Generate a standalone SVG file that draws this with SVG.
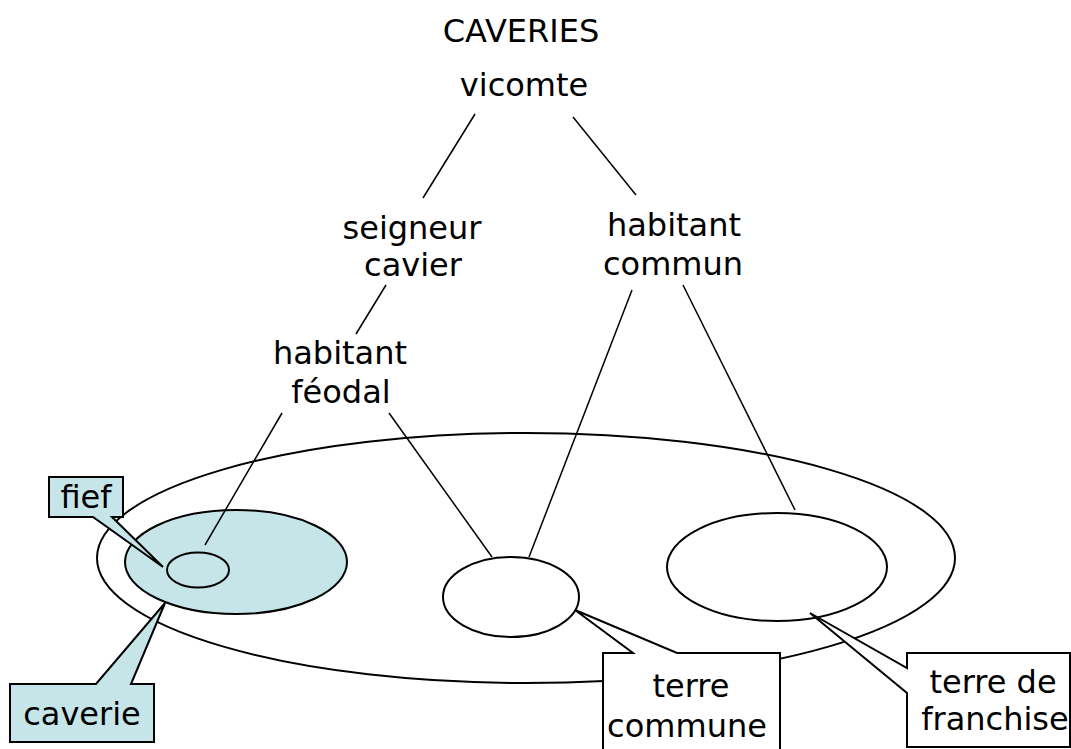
<svg xmlns="http://www.w3.org/2000/svg" width="1071" height="749" viewBox="0 0 1071 749">
<style>
text{font-family:"DejaVu Sans","Verdana",sans-serif;font-size:32px;fill:#000;text-anchor:middle}
.sh{stroke:#000;stroke-width:2;fill:none}
.wf{fill:#fff}
.cy{fill:#c5e5e8}
.ln{stroke:#000;stroke-width:1.5;fill:none}
</style>
<rect width="1071" height="749" fill="#fff"/>
<g id="areas">
<ellipse id="domain" class="sh" cx="526" cy="558" rx="429" ry="125"/>
<ellipse id="caverie-area" class="sh cy" cx="236" cy="562" rx="111" ry="52"/>
<ellipse id="fief-area" class="sh cy" cx="198" cy="570" rx="31" ry="17.5"/>
<ellipse id="commune-area" class="sh wf" cx="511" cy="597" rx="68" ry="40"/>
<ellipse id="franchise-area" class="sh wf" cx="777" cy="567" rx="110" ry="54"/>
</g>
<g id="connectors">
<line class="ln" x1="475" y1="114" x2="423" y2="198"/>
<line class="ln" x1="573" y1="117" x2="636" y2="195"/>
<line class="ln" x1="386" y1="285" x2="356" y2="334"/>
<line class="ln" x1="282" y1="413" x2="205" y2="545"/>
<line class="ln" x1="389" y1="413" x2="492" y2="557"/>
<line class="ln" x1="632" y1="290" x2="529" y2="557"/>
<line class="ln" x1="683" y1="285" x2="795" y2="510"/>
</g>
<g id="title"><text x="521" y="42">CAVERIES</text></g>
<g id="vicomte"><text x="524" y="96">vicomte</text></g>
<g id="seigneur-cavier"><text x="412" y="239">seigneur</text><text x="413" y="276">cavier</text></g>
<g id="habitant-commun"><text x="674" y="236">habitant</text><text x="673" y="275">commun</text></g>
<g id="habitant-feodal"><text x="340" y="364">habitant</text><text x="341" y="403">féodal</text></g>
<g id="fief">
<path class="sh cy" d="M49,477 H123 V517 H112 L163,567 L93,517 H49 Z"/>
<text x="86" y="508">fief</text>
</g>
<g id="caverie">
<path class="sh cy" d="M10,684 H96 L165,603 L131,684 H154 V742 H10 Z"/>
<text x="82" y="725">caverie</text>
</g>
<g id="terre-commune">
<path class="sh wf" d="M603,653 H633 L575,610 L677,653 H780 V760 H603 Z"/>
<text x="691" y="697">terre</text>
<text x="687" y="737">commune</text>
</g>
<g id="terre-franchise">
<path class="sh wf" d="M907,653 H1070 V747 H907 V693 L810,613 L907,668 Z"/>
<text x="993" y="693">terre de</text>
<text x="995" y="730">franchise</text>
</g>
</svg>
